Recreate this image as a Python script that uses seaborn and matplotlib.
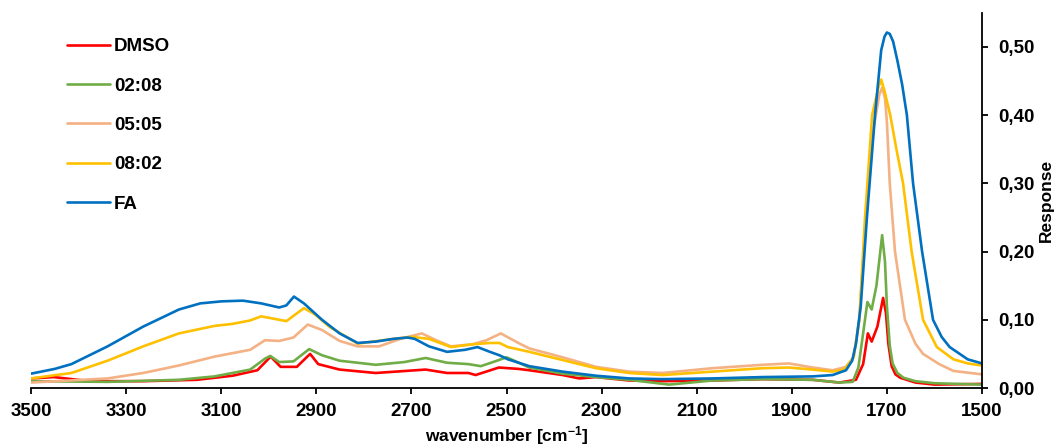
import matplotlib
matplotlib.use("Agg")
import matplotlib.pyplot as plt
from matplotlib.ticker import FuncFormatter, MultipleLocator
import numpy as np
import pandas as pd
import seaborn as sns

# Wavenumbers (cm^-1) and responses for each sample
wn_dmso = [3500, 3452, 3377, 3264, 3151, 3076, 3024, 2996, 2975, 2941, 2913, 2896,
           2851, 2775, 2670, 2625, 2580, 2565, 2516, 2475, 2452, 2382, 2347, 2312,
           2242, 2172, 2067, 1962, 1856, 1800, 1765, 1750, 1740, 1732, 1720, 1708,
           1702, 1697, 1690, 1682, 1672, 1640, 1600, 1500]
resp_dmso = [0.014, 0.016, 0.010, 0.010, 0.012, 0.018, 0.026, 0.046, 0.031, 0.031,
             0.050, 0.035, 0.027, 0.022, 0.027, 0.022, 0.022, 0.019, 0.030, 0.028,
             0.026, 0.019, 0.014, 0.016, 0.011, 0.010, 0.011, 0.013, 0.012, 0.008,
             0.012, 0.035, 0.080, 0.068, 0.090, 0.132, 0.110, 0.065, 0.032, 0.020,
             0.015, 0.008, 0.005, 0.006]

wn_0208 = [3500, 3339, 3189, 3114, 3039, 3008, 2997, 2978, 2948, 2915, 2888, 2851,
           2775, 2715, 2670, 2625, 2580, 2554, 2520, 2500, 2490, 2452, 2382, 2312,
           2242, 2158, 2067, 1962, 1856, 1800, 1772, 1760, 1752, 1741, 1732, 1722,
           1710, 1704, 1700, 1694, 1688, 1678, 1665, 1640, 1600, 1500]
resp_0208 = [0.010, 0.009, 0.012, 0.017, 0.027, 0.043, 0.047, 0.038, 0.039, 0.057,
             0.048, 0.040, 0.034, 0.038, 0.044, 0.037, 0.035, 0.032, 0.040, 0.045,
             0.042, 0.030, 0.021, 0.016, 0.012, 0.005, 0.011, 0.013, 0.012, 0.008,
             0.009, 0.030, 0.070, 0.126, 0.115, 0.150, 0.224, 0.185, 0.120, 0.062,
             0.036, 0.022, 0.015, 0.010, 0.007, 0.005]

wn_0505 = [3500, 3339, 3264, 3189, 3114, 3039, 3008, 2978, 2948, 2918, 2888, 2851,
           2813, 2768, 2723, 2678, 2648, 2617, 2572, 2542, 2512, 2475, 2452, 2382,
           2312, 2242, 2172, 2067, 1962, 1906, 1856, 1814, 1786, 1770, 1758, 1744,
           1728, 1716, 1710, 1704, 1700, 1694, 1683, 1662, 1640, 1624, 1590, 1560,
           1500]
resp_0505 = [0.008, 0.014, 0.022, 0.033, 0.046, 0.056, 0.070, 0.069, 0.074, 0.093,
             0.085, 0.069, 0.061, 0.061, 0.072, 0.080, 0.070, 0.061, 0.064, 0.070,
             0.080, 0.066, 0.058, 0.045, 0.031, 0.024, 0.022, 0.029, 0.034, 0.036,
             0.030, 0.026, 0.031, 0.045, 0.100, 0.250, 0.380, 0.430, 0.440, 0.425,
             0.390, 0.300, 0.200, 0.100, 0.065, 0.050, 0.035, 0.025, 0.020]

wn_0802 = [3500, 3415, 3339, 3264, 3189, 3114, 3076, 3039, 3016, 2993, 2963, 2926,
           2903, 2873, 2813, 2738, 2700, 2663, 2617, 2572, 2535, 2515, 2497, 2452,
           2382, 2312, 2242, 2172, 2067, 1962, 1906, 1856, 1814, 1790, 1770, 1758,
           1746, 1731, 1718, 1712, 1705, 1693, 1680, 1666, 1648, 1624, 1595, 1560,
           1530, 1500]
resp_0802 = [0.014, 0.022, 0.040, 0.061, 0.080, 0.091, 0.094, 0.099, 0.105, 0.102,
             0.098, 0.117, 0.108, 0.090, 0.065, 0.072, 0.075, 0.072, 0.060, 0.064,
             0.066, 0.066, 0.060, 0.053, 0.041, 0.029, 0.022, 0.019, 0.024, 0.029,
             0.030, 0.027, 0.024, 0.027, 0.045, 0.100, 0.250, 0.400, 0.440, 0.452,
             0.435, 0.400, 0.350, 0.300, 0.200, 0.100, 0.060, 0.042, 0.036, 0.033]

wn_fa = [3500, 3450, 3415, 3339, 3264, 3189, 3144, 3099, 3054, 3016, 2978, 2963,
         2947, 2926, 2888, 2851, 2813, 2775, 2738, 2708, 2693, 2663, 2625, 2587,
         2561, 2535, 2515, 2497, 2452, 2382, 2312, 2242, 2172, 2067, 1962, 1856,
         1814, 1786, 1773, 1765, 1755, 1742, 1725, 1712, 1705, 1700, 1694, 1687,
         1678, 1668, 1658, 1645, 1626, 1603, 1585, 1568, 1530, 1500]
resp_fa = [0.021, 0.028, 0.035, 0.061, 0.090, 0.115, 0.124, 0.127, 0.128, 0.124,
           0.118, 0.121, 0.134, 0.124, 0.100, 0.080, 0.066, 0.068, 0.072, 0.074,
           0.072, 0.061, 0.053, 0.056, 0.060, 0.053, 0.048, 0.042, 0.032, 0.024,
           0.018, 0.014, 0.013, 0.014, 0.016, 0.017, 0.019, 0.026, 0.040, 0.065,
           0.120, 0.250, 0.400, 0.495, 0.515, 0.521, 0.519, 0.508, 0.480, 0.445,
           0.400, 0.300, 0.200, 0.100, 0.075, 0.060, 0.042, 0.036]

samples = ["DMSO", "02:08", "05:05", "08:02", "FA"]
colors = ["#FF0000", "#70AD47", "#F4B183", "#FFC000", "#0070C0"]
x_ticks = [3500, 3300, 3100, 2900, 2700, 2500, 2300, 2100, 1900, 1700, 1500]

series = {
    "DMSO": (wn_dmso, resp_dmso),
    "02:08": (wn_0208, resp_0208),
    "05:05": (wn_0505, resp_0505),
    "08:02": (wn_0802, resp_0802),
    "FA": (wn_fa, resp_fa),
}
df = pd.concat(
    [pd.DataFrame({"wavenumber": w, "response": r, "sample": name})
     for name, (w, r) in series.items()],
    ignore_index=True,
)

sns.set_theme(style="white")
plt.rcParams["font.family"] = ["Liberation Sans", "DejaVu Sans"]
plt.rcParams["font.weight"] = "bold"
plt.rcParams["text.color"] = "black"
plt.rcParams["axes.labelcolor"] = "black"
plt.rcParams["xtick.color"] = "black"
plt.rcParams["ytick.color"] = "black"
plt.rcParams["mathtext.fontset"] = "custom"
plt.rcParams["mathtext.rm"] = "Liberation Sans:bold"
plt.rcParams["mathtext.default"] = "rm"

fig = plt.figure(figsize=(10.61, 4.48), dpi=100)
ax = fig.add_axes([31 / 1061, 1 - 388 / 448, 951 / 1061, 375.3 / 448])

sns.lineplot(data=df, x="wavenumber", y="response", hue="sample",
             hue_order=samples, palette=colors, estimator=None, sort=True,
             linewidth=1.9, ax=ax)

ax.set_xlim(3500, 1500)
ax.set_ylim(0, 0.55)
ax.set_xticks(x_ticks)
ax.yaxis.set_major_locator(MultipleLocator(0.1))
ax.yaxis.set_major_formatter(FuncFormatter(lambda v, p: f"{v:.2f}".replace(".", ",")))
ax.yaxis.tick_right()
ax.yaxis.set_label_position("right")

for side in ("left", "top"):
    ax.spines[side].set_visible(False)
for side in ("bottom", "right"):
    ax.spines[side].set_visible(True)
    ax.spines[side].set_color("black")
    ax.spines[side].set_linewidth(1.3)

ax.tick_params(axis="both", which="major", direction="out", length=4.5,
               width=1.3, color="black", labelsize=13.5, labelcolor="black")
ax.tick_params(axis="x", pad=6.5, bottom=True)
ax.tick_params(axis="y", pad=7, right=True, left=False)
for lbl in ax.get_xticklabels() + ax.get_yticklabels():
    lbl.set_fontweight("bold")

ax.set_xlabel("wavenumber [cm$^{-1}$]", fontsize=12.5, fontweight="bold",
              labelpad=3, color="black")
ax.set_ylabel("Response", fontsize=12.5, fontweight="bold", labelpad=3,
              color="black")
ax.grid(False)

handles, labels = ax.get_legend_handles_labels()
leg = ax.legend(handles, labels, loc="upper left",
                bbox_to_anchor=(67 / 1061, 1 - 38 / 448),
                bbox_transform=fig.transFigure, frameon=False, borderpad=0,
                borderaxespad=0, handlelength=2.3, handletextpad=0.2,
                labelspacing=1.19, prop={"size": 13.5, "weight": "bold"})
for t in leg.get_texts():
    t.set_color("black")

fig.savefig("out.png", dpi=100)
